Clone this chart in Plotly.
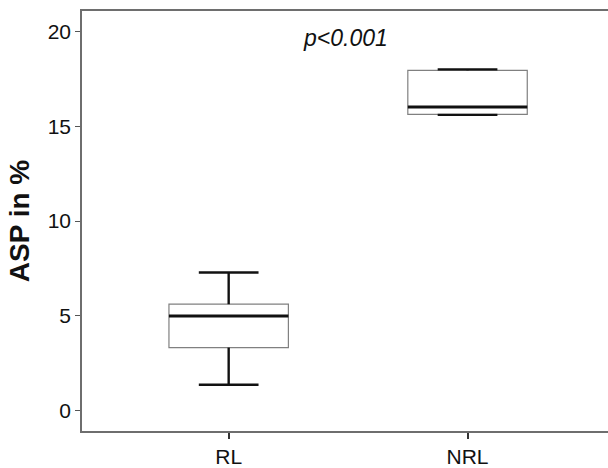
import plotly.graph_objects as go

# Group labels and five-number summaries of ASP (%)
groups = ["RL", "NRL"]
q1 = [3.32, 15.63]
median = [4.99, 16.02]
q3 = [5.61, 17.95]
lower_whisker = [1.36, 15.60]
upper_whisker = [7.28, 18.00]

positions = list(range(len(groups)))
box_half = 0.25
cap_half = 0.125

fig = go.Figure()

# Box bodies (thin grey outline)
fig.add_trace(go.Box(
    x=positions, q1=q1, median=median, q3=q3,
    lowerfence=q1, upperfence=q3,
    width=2 * box_half, whiskerwidth=0,
    fillcolor="white",
    line=dict(color="#808080", width=1.2),
    boxpoints=False, hoverinfo="skip", showlegend=False,
))

# Whiskers, caps and medians drawn in black on top of the boxes
for i, p in enumerate(positions):
    # lower whisker stem + cap
    fig.add_trace(go.Scatter(
        x=[p, p, None, p - cap_half, p + cap_half],
        y=[q1[i], lower_whisker[i], None, lower_whisker[i], lower_whisker[i]],
        mode="lines", line=dict(color="#111111", width=2.4),
        hoverinfo="skip", showlegend=False,
    ))
    # upper whisker stem + cap
    fig.add_trace(go.Scatter(
        x=[p, p, None, p - cap_half, p + cap_half],
        y=[q3[i], upper_whisker[i], None, upper_whisker[i], upper_whisker[i]],
        mode="lines", line=dict(color="#111111", width=2.4),
        hoverinfo="skip", showlegend=False,
    ))
    # median
    fig.add_trace(go.Scatter(
        x=[p - box_half, p + box_half],
        y=[median[i], median[i]],
        mode="lines", line=dict(color="#111111", width=3),
        hoverinfo="skip", showlegend=False,
    ))

fig.add_annotation(
    x=0.501, xref="paper", y=19.63, yref="y",
    text="<i>p<0.001</i>", showarrow=False,
    font=dict(size=23, color="#111111", family="Liberation Sans, Arial, sans-serif"),
)

axis_line = "#6e6e6e"
fig.update_layout(
    width=608, height=468,
    margin=dict(l=82, r=0, t=11, b=35),
    paper_bgcolor="white", plot_bgcolor="white",
    font=dict(family="Liberation Sans, Arial, sans-serif", size=21, color="#111111"),
    xaxis=dict(
        range=[-0.614, 1.588],
        tickvals=positions, ticktext=groups,
        showline=True, linecolor=axis_line, linewidth=1.5, mirror=True,
        ticks="outside", ticklen=6, tickcolor="#333333", tickwidth=1.5,
        showgrid=False, zeroline=False,
        tickfont=dict(size=21),
    ),
    yaxis=dict(
        range=[-1.08, 21.08],
        tickvals=[0, 5, 10, 15, 20],
        showline=True, linecolor=axis_line, linewidth=1.5,
        ticks="outside", ticklen=5, tickcolor="#555555", tickwidth=1,
        showgrid=False, zeroline=False,
        tickfont=dict(size=21),
        title=dict(text="<b>ASP in %</b>", font=dict(size=28), standoff=10),
    ),
)

fig.write_html("out.html")
